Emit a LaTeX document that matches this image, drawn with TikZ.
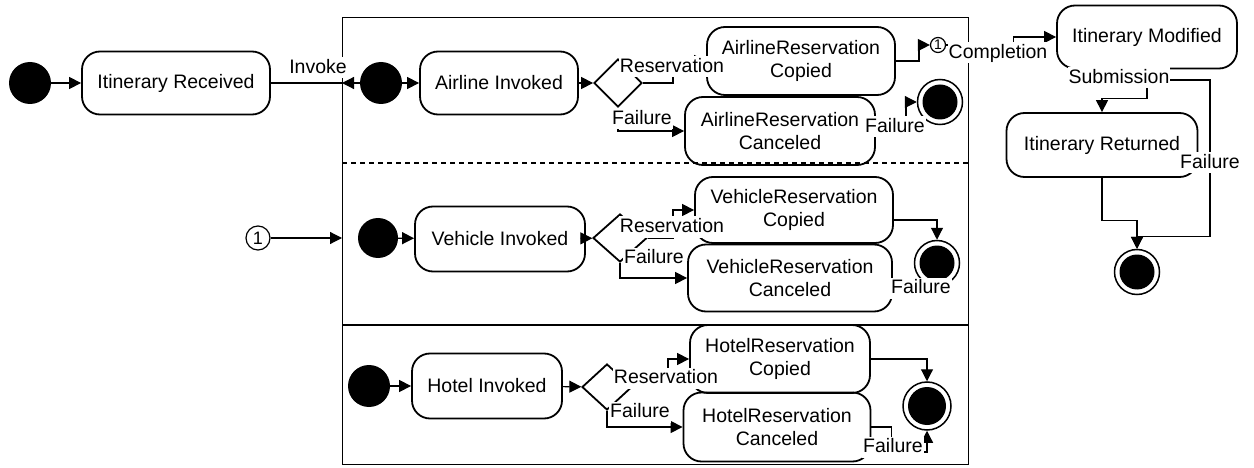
\documentclass[tikz,border=0pt]{standalone}
\usepackage{fontspec}
\setmainfont{Liberation Sans}
\usetikzlibrary{arrows.meta,shapes.geometric}

\begin{document}
\begin{tikzpicture}[x=1pt,y=-1pt,
  every node/.style={font=\fontsize{19.5}{23}\selectfont},
  statebox/.style={draw, rounded corners=18pt, line width=1.8pt, align=center, inner sep=0pt},
  initdot/.style={circle, fill=black, minimum size=42pt, inner sep=0pt},
  finaldot/.style={circle, draw, line width=1.5pt, minimum size=#1, inner sep=0pt,
    path picture={\fill (path picture bounding box.center) circle ({#1/2-5pt});}},
  finaldot/.default=45pt,
  choice/.style={diamond, draw, line width=1.8pt, inner sep=0pt, minimum width=48pt, minimum height=48pt},
  conn/.style={circle, draw, line width=1.2pt, inner sep=0pt},
  flow/.style={line width=1.2pt, -{Triangle[length=12pt,width=12pt]}},
  wire/.style={line width=1.2pt},
  lbl/.style={fill=white, inner xsep=1pt, inner ysep=2pt, text height=14pt, text depth=3pt}
]
\useasboundingbox (0,0) rectangle (1254,468);

% ---- outer flow ----
\node[initdot] (init0) at (30,83) {};
\node[statebox, minimum width=188pt, minimum height=63pt] (recv) at (176,83) {Itinerary Received};

% ---- parallel region with three lanes ----
\node[draw, line width=1.3pt, minimum width=626pt, minimum height=447pt, anchor=north west, inner sep=0pt] (pool) at (342,17) {};
\draw[wire, dash pattern=on 5pt off 4pt] (342,163) -- (968,163);
\draw[wire] (342,325) -- (968,325);

% airline lane
\node[initdot] (ainit) at (381,83) {};
\node[statebox, minimum width=158pt, minimum height=63pt] (ainv) at (499,83) {Airline Invoked};
\node[choice] (adec) at (618,83) {};
\node[statebox, minimum width=188pt, minimum height=68pt] (acop) at (801,61) {AirlineReservation\\Copied};
\node[statebox, minimum width=190pt, minimum height=68pt] (acan) at (780,131) {AirlineReservation\\Canceled};
\node[finaldot] (afin) at (940,102) {};
\node[conn, minimum size=15pt, font=\fontsize{14}{14}\selectfont] (c1a) at (938,45) {1};

% vehicle lane
\node[conn, minimum size=24pt, font=\fontsize{18}{18}\selectfont] (c1v) at (258,238) {1};
\node[initdot, minimum size=40pt] (vinit) at (378,238) {};
\node[statebox, minimum width=170pt, minimum height=65pt] (vinv) at (500,239) {Vehicle Invoked};
\node[choice, minimum width=54pt] (vdec) at (620,238) {};
\node[statebox, minimum width=198pt, minimum height=66pt] (vcop) at (794,210) {VehicleReservation\\Copied};
\node[statebox, minimum width=204pt, minimum height=67pt] (vcan) at (790,278) {VehicleReservation\\Canceled};
\node[finaldot] (vfin) at (937,263) {};

% hotel lane
\node[initdot] (hinit) at (369,386) {};
\node[statebox, minimum width=150pt, minimum height=65pt] (hinv) at (487,386) {Hotel Invoked};
\node[choice, minimum width=50pt, minimum height=46pt] (hdec) at (607,387) {};
\node[statebox, minimum width=180pt, minimum height=68pt] (hcop) at (780,359) {HotelReservation\\Copied};
\node[statebox, minimum width=187pt, minimum height=69pt] (hcan) at (777,427) {HotelReservation\\Canceled};
\node[finaldot=48pt] (hfin) at (927,406) {};

% itinerary states on the right
\node[statebox, minimum width=180pt, minimum height=63pt] (imod) at (1147,37) {Itinerary Modified};
\node[statebox, minimum width=191pt, minimum height=64pt] (iret) at (1102,145) {Itinerary Returned};
\node[finaldot] (ifin) at (1137,272) {};

% ---- transitions ----
\draw[flow] (init0) -- (recv);
\draw[wire] (recv.east) -- (recv.east -| pool.west);
\draw[flow] (ainit) -- (ainit -| pool.west);
\draw[flow] (ainit) -- (ainv);
\draw[flow] (ainv) -- (adec);
\draw[flow] (adec.east) -- ++(30,0) |- (acop.west);
\draw[flow] (adec.south) |- (acan.west);
\draw[flow] (acop.east) -- ++(23,0) |- (c1a.west);
\draw[flow] (c1a.east) -- ++(67,0) |- (imod.west);
\draw[flow] (acan.east) -- ++(30,0) |- (afin.west);

\draw[flow] (c1v) -- (c1v -| pool.west);
\draw[flow] (vinit) -- (vinv);
\draw[flow] (vinv) -- (vdec);
\draw[flow] (vdec.east) -- ++(25,0) |- (vcop.west);
\draw[flow] (vdec.south) |- (vcan.west);
\draw[flow] ([yshift=-10pt]vcop.east) -| (vfin.north);
\draw[wire] ([yshift=-10pt]vcan.east) -| (vfin.south);

\draw[flow] (hinit) -- (hinv);
\draw[flow] (hinv) -- (hdec);
\draw[flow] (hdec.east) -- ++(35,0) |- (hcop.west);
\draw[flow] (hdec.south) |- (hcan.west);
\draw[flow] (hcop.east) -| (hfin.north);
\draw[flow] (hcan.east) -- ++(20,0) -- ++(0,25) -| (hfin.south);

\draw[flow] (imod.south) -- ++(0,29) -| (iret.north);
\draw[flow] ([xshift=14pt]imod.south) |- (1210,80) |- ([yshift=12pt]ifin.north) -- (ifin.north);
\draw[flow] (iret.south) -- ++(0,43) -| (ifin.north);

% ---- transition labels ----
\node[lbl] (tinvoke) at (318,68) {Invoke};
\node[lbl] (tares) at (672,67) {Reservation};
\node[lbl] (tafail) at (642,119) {Failure};
\node[lbl] (tacfail) at (895,127) {Failure};
\node[lbl] (tcompl) at (998,53) {Completion};
\node[lbl] (tvres) at (672,227) {Reservation};
\node[lbl] (tvfail) at (654,258) {Failure};
\node[lbl] (tvcfail) at (921,288) {Failure};
\node[lbl] (thres) at (666,378) {Reservation};
\node[lbl] (thfail) at (640,412) {Failure};
\node[lbl] (thcfail) at (893,447) {Failure};
\node[lbl] (tsubm) at (1119,78) {Submission};
\node[lbl] (tifail) at (1210,163) {Failure};
\end{tikzpicture}
\end{document}
